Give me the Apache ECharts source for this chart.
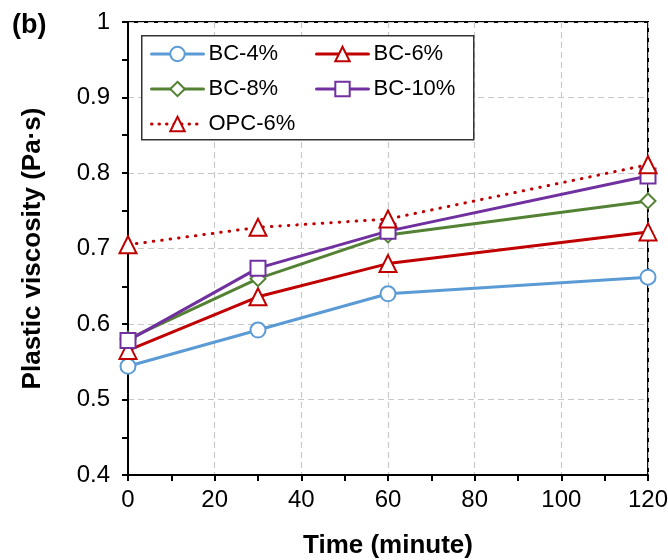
<!DOCTYPE html>
<html>
<head>
<meta charset="utf-8">
<script src="https://cdn.jsdelivr.net/npm/echarts@6/dist/echarts.min.js"></script>
<style>html,body{margin:0;padding:0;background:#fff;}#c{width:668px;height:560px;}</style>
</head>
<body>
<div id="c"></div>
<script>
const times = [0, 30, 60, 120];
const bc4 = [0.544, 0.592, 0.640, 0.662];
const bc6 = [0.565, 0.636, 0.680, 0.722];
const bc8 = [0.580, 0.660, 0.718, 0.763];
const bc10 = [0.578, 0.674, 0.723, 0.796];
const opc6 = [0.705, 0.728, 0.739, 0.811];
const seriesNames = ['BC-4%', 'BC-6%', 'BC-8%', 'BC-10%', 'OPC-6%'];

const FONT = '"Liberation Sans", Arial, sans-serif';
const chart = echarts.init(document.getElementById('c'), null, {renderer: 'canvas'});

function pts(vals) { return times.map((t, i) => [t, vals[i]]); }

function mkSeries(name, vals, color, symbol, size, dash) {
  return {
    name: name, type: 'line', data: pts(vals),
    symbol: symbol, symbolSize: size, showAllSymbol: true,
    lineStyle: {color: color, width: 3, type: dash || 'solid', cap: 'round'},
    itemStyle: {color: '#fff', borderColor: color, borderWidth: 2},
    emphasis: {disabled: true}, animation: false, z: 3
  };
}

function mkLegend(name, left, top, dash) {
  return {
    data: [name], left: left, top: top, padding: 0,
    itemWidth: 52, itemHeight: 18, itemGap: 5,
    lineStyle: {width: 3, type: dash || 'solid', cap: 'round'},
    itemStyle: {borderWidth: 2},
    textStyle: {fontFamily: FONT, fontSize: 22, color: '#000', padding: [0, 0, 0, 0]},
    selectedMode: false
  };
}

const option = {
  backgroundColor: '#fff',
  animation: false,
  grid: {left: 128, right: 20, top: 22, bottom: 85, show: true, borderColor: '#000', borderWidth: 2,
    backgroundColor: 'transparent', containLabel: false, outerBoundsMode: 'none'},
  xAxis: {
    type: 'value', min: 0, max: 120, interval: 20,
    name: 'Time (minute)', nameLocation: 'middle', nameGap: 58,
    nameTextStyle: {fontFamily: FONT, fontSize: 26, fontWeight: 'bold', color: '#000'},
    axisLine: {show: true, onZero: false, lineStyle: {color: '#000', width: 2}},
    axisTick: {show: true, inside: false, length: 6, lineStyle: {color: '#000', width: 2}},
    minorTick: {show: true, splitNumber: 2, length: 6, lineStyle: {color: '#000', width: 2}},
    axisLabel: {fontFamily: FONT, fontSize: 24, color: '#000', margin: 13},
    splitLine: {show: true, lineStyle: {color: '#c8c8c8', type: [6, 4], width: 1.2}}
  },
  yAxis: {
    type: 'value', min: 0.4, max: 1, interval: 0.1,
    name: 'Plastic viscosity (Pa·s)', nameLocation: 'middle', nameGap: 82,
    nameTextStyle: {fontFamily: FONT, fontSize: 26, fontWeight: 'bold', color: '#000'},
    axisLine: {show: true, onZero: false, lineStyle: {color: '#000', width: 2}},
    axisTick: {show: true, inside: false, length: 6, lineStyle: {color: '#000', width: 2}},
    minorTick: {show: true, splitNumber: 2, length: 6, lineStyle: {color: '#000', width: 2}},
    axisLabel: {fontFamily: FONT, fontSize: 24, color: '#000', margin: 18,
      formatter: v => String(parseFloat(v.toFixed(1)))},
    splitLine: {show: true, lineStyle: {color: '#c8c8c8', type: [6, 4], width: 1.2}}
  },
  legend: [
    mkLegend('BC-4%', 150, 43),
    mkLegend('BC-6%', 315, 43),
    mkLegend('BC-8%', 150, 78),
    mkLegend('BC-10%', 315, 78),
    mkLegend('OPC-6%', 150, 113, [0.5, 7])
  ],
  graphic: [
    {type: 'rect', left: 141, top: 35, z: 10, silent: true,
      shape: {width: 332, height: 104},
      style: {fill: '#fff', stroke: '#333', lineWidth: 1.5}},
    {type: 'text', left: 12, top: 12, z: 20,
      style: {text: '(b)', font: 'bold 27px ' + FONT, fill: '#000'}}
  ],
  series: [
    mkSeries('BC-4%', bc4, '#5B9BD5', 'circle', 15),
    mkSeries('BC-6%', bc6, '#C00000', 'triangle', 17),
    mkSeries('BC-8%', bc8, '#548235', 'diamond', 15),
    mkSeries('BC-10%', bc10, '#7030A0', 'rect', 15),
    mkSeries('OPC-6%', opc6, '#C00000', 'triangle', 17, [0.5, 8])
  ]
};
option.legend.forEach(l => { l.z = 20; });
chart.setOption(option);
</script>
</body>
</html>
